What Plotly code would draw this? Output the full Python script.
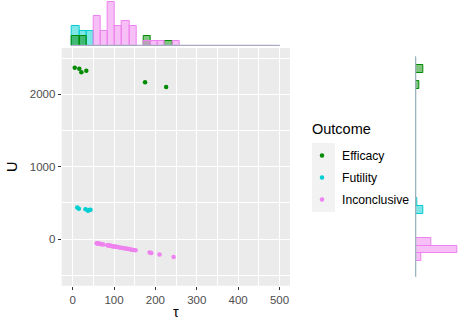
import numpy as np
import plotly.graph_objects as go

# scatter data (tau, U) per outcome
efficacy_tau = [5, 16, 21, 33, 175, 226]
efficacy_u = [2369, 2355, 2306, 2328, 2167, 2102]
futility_tau = [11, 15, 31, 37, 40, 43]
futility_u = [436, 420, 412, 392, 400, 405]
inconclusive_tau = [58, 60, 62, 64, 66, 67, 70, 74, 84, 86, 88, 90, 92, 94, 96, 98,
                    100, 102, 105, 109, 113, 117, 121, 124, 128, 132, 135, 139, 143,
                    147, 152, 186, 190, 210, 244]
inconclusive_u = [-59, -61, -63, -65, -67, -69, -71, -76, -86, -88, -90, -93, -95, -97,
                  -99, -101, -103, -105, -108, -112, -116, -120, -125, -128, -132, -136,
                  -139, -143, -147, -151, -157, -188, -192, -214, -249]

# marginal histogram of tau: 29 bins
tau_bin_start = -1.4
tau_bin_width = 17.3
efficacy_tau_counts = [2, 2, 0, 0, 0, 0, 0, 0, 0, 0, 2, 0, 0, 1, 0] + [0] * 14
futility_tau_counts = [4, 3, 3] + [0] * 26
inconclusive_tau_counts = [0, 0, 0, 6, 3, 9, 4, 5, 4, 0, 1, 1, 1, 0, 1] + [0] * 14

# marginal histogram of U: 28 bins
u_bin_start = -525
u_bin_width = 108.6
efficacy_u_counts = [0] * 24 + [2, 0, 4, 0]
futility_u_counts = [0] * 8 + [4, 1] + [0] * 18
inconclusive_u_counts = [0, 0, 3, 21, 8] + [0] * 23

groups = ["Efficacy", "Futility", "Inconclusive"]
colors = {"Efficacy": "#008B00", "Futility": "#00CED1", "Inconclusive": "#EE82EE"}
fills = {"Efficacy": "rgba(0,139,0,0.5)", "Futility": "rgba(0,206,209,0.5)",
         "Inconclusive": "rgba(238,130,238,0.5)"}

scatter_data = {
    "Efficacy": (efficacy_tau, efficacy_u),
    "Futility": (futility_tau, futility_u),
    "Inconclusive": (inconclusive_tau, inconclusive_u),
}
tau_counts = {"Efficacy": efficacy_tau_counts, "Futility": futility_tau_counts,
              "Inconclusive": inconclusive_tau_counts}
u_counts = {"Efficacy": efficacy_u_counts, "Futility": futility_u_counts,
            "Inconclusive": inconclusive_u_counts}

tau_centers = tau_bin_start + tau_bin_width * (np.arange(29) + 0.5)
u_centers = u_bin_start + u_bin_width * (np.arange(28) + 0.5)

W, H = 459, 329
FONT = "Liberation Sans"

fig = go.Figure()

for g in groups:
    tx, uy = scatter_data[g]
    fig.add_trace(go.Scatter(
        x=tx, y=uy, mode="markers", name=g, legendgroup=g,
        marker=dict(color=colors[g], size=4.5),
        xaxis="x", yaxis="y",
    ))

# baselines of the marginal histograms (zero-count bins)
fig.add_trace(go.Scatter(
    x=[tau_bin_start, tau_bin_start + 29 * tau_bin_width], y=[0, 0], mode="lines",
    line=dict(color="#9DB5BE", width=2), xaxis="x2", yaxis="y2", showlegend=False,
))
fig.add_trace(go.Scatter(
    x=[0, 0], y=[u_bin_start, u_bin_start + 28 * u_bin_width], mode="lines",
    line=dict(color="#9DB5BE", width=2), xaxis="x3", yaxis="y3", showlegend=False,
))

for g in ["Futility", "Efficacy", "Inconclusive"]:
    fig.add_trace(go.Bar(
        x=tau_centers, y=tau_counts[g], width=tau_bin_width,
        marker=dict(color=fills[g], line=dict(color=colors[g], width=1)),
        xaxis="x2", yaxis="y2", showlegend=False,
    ))
    fig.add_trace(go.Bar(
        y=u_centers, x=u_counts[g], width=u_bin_width, orientation="h",
        marker=dict(color=fills[g], line=dict(color=colors[g], width=1)),
        xaxis="x3", yaxis="y3", showlegend=False,
    ))

x_dom = [61.7 / W, 290 / W]
y_dom = [(H - 285.7) / H, (H - 48) / H]
x_range = [-26.5, 525.4]
y_range = [-646, 2642]

axis_common = dict(
    showgrid=True, gridcolor="white", gridwidth=1.1, zeroline=False,
    ticks="outside", ticklen=3, tickwidth=1, tickcolor="#333333",
    tickfont=dict(family=FONT, size=11.5, color="#4D4D4D"),
    showline=False,
)

fig.update_layout(
    width=W, height=H,
    margin=dict(l=0, r=0, t=0, b=0),
    paper_bgcolor="white", plot_bgcolor="white",
    barmode="overlay", bargap=0,
    font=dict(family=FONT),
    xaxis=dict(
        domain=x_dom, range=x_range, anchor="y", tickvals=[0, 100, 200, 300, 400, 500],
        minor=dict(dtick=50, tick0=0, showgrid=True, gridcolor="white", gridwidth=0.5),
        title=dict(text="τ", font=dict(family=FONT, size=14.5, color="black"), standoff=2),
        **axis_common,
    ),
    yaxis=dict(
        domain=y_dom, range=y_range, anchor="x", tickvals=[0, 1000, 2000],
        minor=dict(dtick=500, tick0=0, showgrid=True, gridcolor="white", gridwidth=0.5),
        title=dict(text="U", font=dict(family=FONT, size=14.5, color="black"), standoff=8),
        **axis_common,
    ),
    xaxis2=dict(domain=x_dom, range=x_range, anchor="y2", visible=False),
    yaxis2=dict(domain=[(H - 45.7) / H, 1], range=[0, 45.7 / 4.9], anchor="x2", visible=False),
    xaxis3=dict(domain=[415.3 / W, 1], range=[0, 43.7 / 2.0], anchor="y3", visible=False),
    yaxis3=dict(domain=y_dom, range=y_range, anchor="x3", visible=False),
    legend=dict(
        x=302 / W, y=(H - 141) / H, xanchor="left", yanchor="top",
        font=dict(family=FONT, size=12.2, color="black"),
        tracegroupgap=3, bgcolor="rgba(0,0,0,0)",
    ),
    annotations=[dict(
        text="Outcome", xref="paper", yref="paper", x=310 / W, y=(H - 129) / H,
        xanchor="left", yanchor="middle", showarrow=False,
        font=dict(family=FONT, size=14.5, color="black"),
    )],
    shapes=[
        dict(type="rect", xref="x domain", yref="y domain", x0=0, x1=1, y0=0, y1=1,
             fillcolor="#EBEBEB", line=dict(width=0), layer="below"),
        dict(type="rect", xref="paper", yref="paper", x0=312 / W, x1=335 / W,
             y0=(H - 212) / H, y1=(H - 143) / H,
             fillcolor="#F2F2F2", line=dict(width=0), layer="below"),
    ],
)

fig.write_html("out.html", post_script="document.body.style.margin='0';",
               config={"displayModeBar": False})
